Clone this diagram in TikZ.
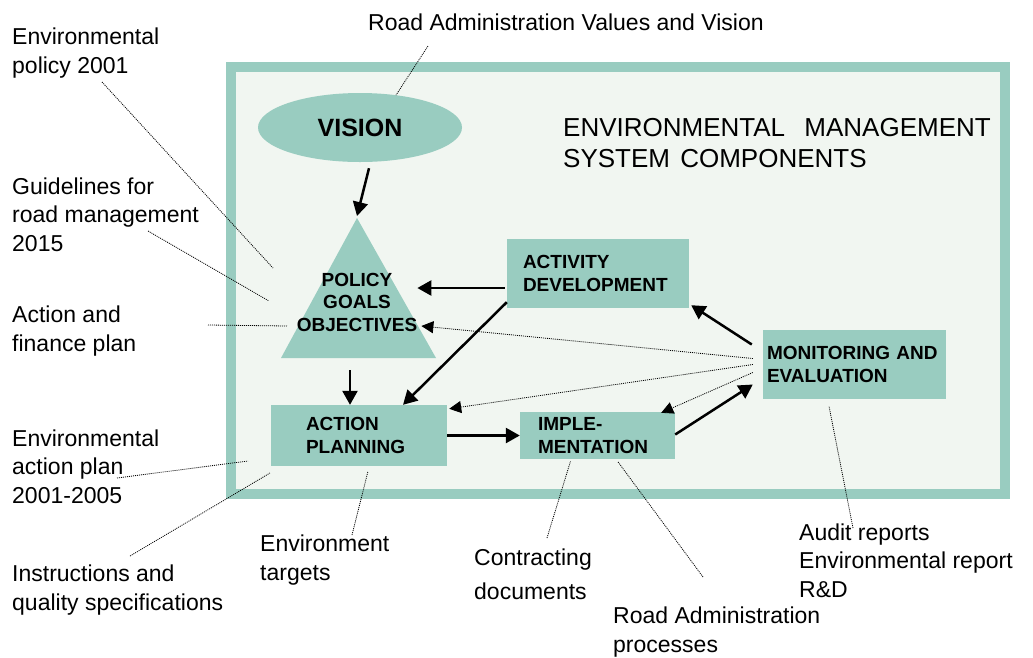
\documentclass[tikz,border=0pt]{standalone}
\usepackage{fontspec}
\setmainfont{Liberation Sans}
\usetikzlibrary{arrows.meta,shapes.geometric}
\definecolor{emsteal}{RGB}{153,204,192}
\definecolor{emsbg}{RGB}{241,246,241}
\begin{document}
\begin{tikzpicture}[x=1pt,y=-1pt,
    comp/.style={fill=emsteal,inner ysep=0pt,align=left,font=\fontsize{19}{23}\selectfont\bfseries},
    lbl/.style={anchor=base west,inner sep=0pt,align=left,font=\fontsize{23}{28.5}\selectfont},
    arr/.style={line width=2.5pt,-{Triangle[length=14pt,width=15pt]}},
    fb/.style={line width=0.8pt,dash pattern=on 1pt off 1pt,-{Triangle[length=12pt,width=12pt]}},
    lead/.style={line width=0.8pt,dash pattern=on 1pt off 1pt}]
  \useasboundingbox (0,0) rectangle (1033,657);
  \draw[line width=10pt,draw=emsteal,fill=emsbg] (231,67) rectangle (1005,494);

  \coordinate (apex) at (357,218);
  \coordinate (base) at (357,358);
  \fill[emsteal] (apex) -- (436,358) -- (281,358) -- cycle;

  \node[ellipse,fill=emsteal,minimum width=204pt,minimum height=69pt,inner sep=0pt,
    font=\fontsize{25}{25}\selectfont\bfseries] (vision) at (360,127.5) {VISION};
  \node[inner sep=0pt,align=center,font=\fontsize{19}{22.5}\selectfont\bfseries] (pol) at (357,302) {POLICY\\GOALS\\OBJECTIVES};
  \node[comp,minimum height=69pt,inner xsep=16pt,text width=150pt] (act) at (598,273.5) {ACTIVITY\\DEVELOPMENT};
  \node[comp,minimum height=61pt,inner xsep=35pt,text width=106pt] (plan) at (359,435.5) {ACTION\\PLANNING};
  \node[comp,minimum height=47pt,inner xsep=18pt,text width=119pt] (impl) at (597.5,435.5) {IMPLE-\\MENTATION};
  \node[comp,minimum height=69pt,inner xsep=4pt,text width=175pt] (mon) at (854.5,364.5) {MONITORING AND\\EVALUATION};

  % labels sit on the baseline of their last line
  \node[lbl,font=\fontsize{26}{31}\selectfont] (title) at (563,167) {ENVIRONMENTAL\hspace{12pt} MANAGEMENT\\SYSTEM\hspace{3pt} COMPONENTS};
  \node[lbl] (topl) at (368,30) {Road Administration Values and Vision};
  \node[lbl] (envpol) at (12,73) {Environmental\\policy 2001};
  \node[lbl] (guide) at (12,251) {Guidelines for\\road management\\2015};
  \node[lbl] (actfin) at (12,351) {Action and\\finance plan};
  \node[lbl] (envact) at (12,503) {Environmental\\action plan\\2001-2005};
  \node[lbl] (instr) at (12,610) {Instructions and\\quality specifications};
  \node[lbl] (envtar) at (260,580) {Environment\\targets};
  \node[lbl,font=\fontsize{23}{34}\selectfont] (contr) at (474,599) {Contracting\\documents};
  \node[lbl] (rproc) at (613,652) {Road Administration\\processes};
  \node[lbl] (audit) at (799,597) {Audit reports\\Environmental report\\R\&D};

  \coordinate (l1) at (273,268);
  \coordinate (l2) at (269,301);
  \coordinate (l3) at (287,326);
  \coordinate (l4) at (248,461);
  \coordinate (l5) at (270,473);

  \draw[arr] ([xshift=9pt,yshift=-6pt]vision.south) -- ([yshift=2pt]apex);
  \draw[arr] ([xshift=-2pt,yshift=-14.5pt]act.west) -- ([yshift=14pt]pol.east);
  \draw[arr] ([yshift=6pt]act.south west) -- ([xshift=44pt]plan.north);
  \draw[arr] ([xshift=-7pt,yshift=-12pt]base) -- ([xshift=-9pt]plan.north);
  \draw[arr] (plan.east) -- (impl.west);
  \draw[arr] ([yshift=1pt]impl.east) -- ([xshift=-10pt,yshift=-20pt]mon.west);
  \draw[arr] ([xshift=-11pt,yshift=20pt]mon.west) -- ([xshift=2pt,yshift=3pt]act.south east);

  \draw[fb] ([xshift=-10pt,yshift=6pt]mon.west) -- ([xshift=4pt,yshift=-24pt]pol.east);
  \draw[fb] ([xshift=-10pt]mon.west) -- ([xshift=2pt,yshift=-4pt]plan.north east);
  \draw[fb] ([xshift=-10pt,yshift=-8pt]mon.west) -- ([xshift=-14pt,yshift=-1pt]impl.north east);

  \draw[lead] ([shift={(60,16)}]topl.base west) -- (vision.42);
  \draw[lead] ([shift={(90,9)}]envpol.base west) -- (l1);
  \draw[lead] ([shift={(136,-20)}]guide.base west) -- (l2);
  \draw[lead] ([shift={(196,-26)}]actfin.base west) -- (l3);
  \draw[lead] ([shift={(105,-25)}]envact.base west) -- (l4);
  \draw[lead] ([shift={(118,-54)}]instr.base west) -- (l5);
  \draw[lead] ([shift={(92,-45)}]envtar.base west) -- ([xshift=9pt,yshift=-5pt]plan.south);
  \draw[lead] ([shift={(73,-61)}]contr.base west) -- ([xshift=-27pt,yshift=-2pt]impl.south);
  \draw[lead] ([shift={(90,-75)}]rproc.base west) -- ([xshift=20pt,yshift=-2pt]impl.south);
  \draw[lead] ([shift={(54,-69)}]audit.base west) -- ([xshift=-25.5pt,yshift=-7pt]mon.south);
\end{tikzpicture}
\end{document}
